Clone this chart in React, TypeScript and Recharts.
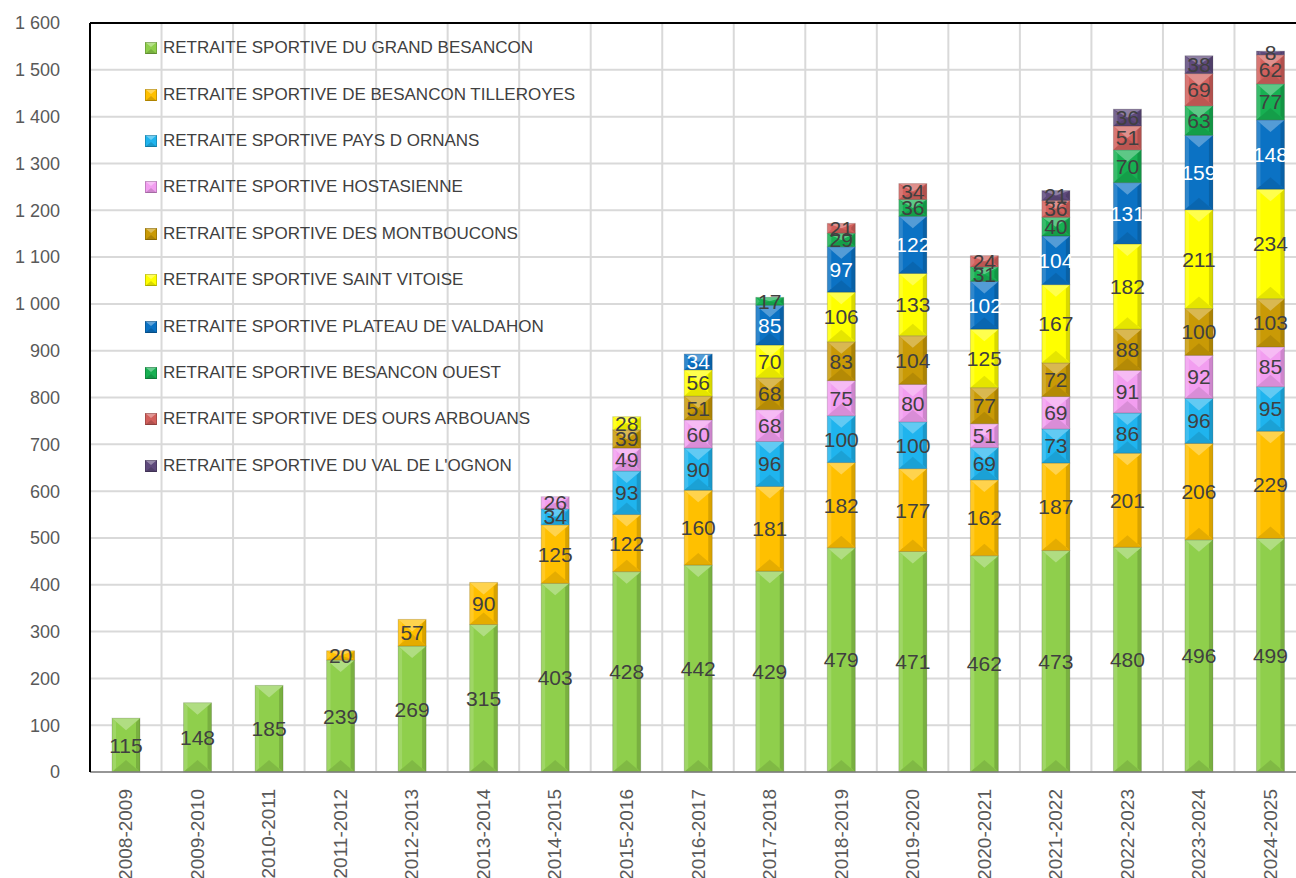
import React from "react";
import { BarChart, Bar, XAxis, YAxis, CartesianGrid, ReferenceLine, LabelList } from "recharts";

const seasons = [
  "2008-2009", "2009-2010", "2010-2011", "2011-2012", "2012-2013", "2013-2014",
  "2014-2015", "2015-2016", "2016-2017", "2017-2018", "2018-2019", "2019-2020",
  "2020-2021", "2021-2022", "2022-2023", "2023-2024", "2024-2025",
];

const n = null;
const grandBesancon = [115, 148, 185, 239, 269, 315, 403, 428, 442, 429, 479, 471, 462, 473, 480, 496, 499];
const tilleroyes = [n, n, n, 20, 57, 90, 125, 122, 160, 181, 182, 177, 162, 187, 201, 206, 229];
const paysOrnans = [n, n, n, n, n, n, 34, 93, 90, 96, 100, 100, 69, 73, 86, 96, 95];
const hostasienne = [n, n, n, n, n, n, 26, 49, 60, 68, 75, 80, 51, 69, 91, 92, 85];
const montboucons = [n, n, n, n, n, n, n, 39, 51, 68, 83, 104, 77, 72, 88, 100, 103];
const saintVitoise = [n, n, n, n, n, n, n, 28, 56, 70, 106, 133, 125, 167, 182, 211, 234];
const valdahon = [n, n, n, n, n, n, n, n, 34, 85, 97, 122, 102, 104, 131, 159, 148];
const besanconOuest = [n, n, n, n, n, n, n, n, n, 17, 29, 36, 31, 40, 70, 63, 77];
const oursArbouans = [n, n, n, n, n, n, n, n, n, n, 21, 34, 24, 36, 51, 69, 62];
const valOgnon = [n, n, n, n, n, n, n, n, n, n, n, n, n, 21, 36, 38, 8];

const yTicks = [0, 100, 200, 300, 400, 500, 600, 700, 800, 900, 1000, 1100, 1200, 1300, 1400, 1500, 1600];

const series = [
  { key: "grand", name: "RETRAITE SPORTIVE DU GRAND BESANCON", values: grandBesancon, color: "#8fcf4c", label: "#404040" },
  { key: "tilleroyes", name: "RETRAITE SPORTIVE DE BESANCON TILLEROYES", values: tilleroyes, color: "#ffc000", label: "#404040" },
  { key: "ornans", name: "RETRAITE SPORTIVE PAYS D ORNANS", values: paysOrnans, color: "#1fb4ee", label: "#404040" },
  { key: "hostasienne", name: "RETRAITE SPORTIVE HOSTASIENNE", values: hostasienne, color: "#f29ef0", label: "#404040" },
  { key: "montboucons", name: "RETRAITE SPORTIVE DES MONTBOUCONS", values: montboucons, color: "#c99a06", label: "#404040" },
  { key: "vitoise", name: "RETRAITE SPORTIVE SAINT VITOISE", values: saintVitoise, color: "#ffff00", label: "#404040" },
  { key: "valdahon", name: "RETRAITE SPORTIVE PLATEAU DE VALDAHON", values: valdahon, color: "#0b72c4", label: "#ffffff" },
  { key: "ouest", name: "RETRAITE SPORTIVE BESANCON OUEST", values: besanconOuest, color: "#17b052", label: "#404040" },
  { key: "ours", name: "RETRAITE SPORTIVE DES OURS ARBOUANS", values: oursArbouans, color: "#d2605c", label: "#404040" },
  { key: "ognon", name: "RETRAITE SPORTIVE DU VAL DE L'OGNON", values: valOgnon, color: "#5f4a7c", label: "#404040" },
];

const data = seasons.map((s, i) => {
  const row: Record<string, any> = { season: s };
  series.forEach((sr) => (row[sr.key] = sr.values[i]));
  return row;
});

const font = "'Liberation Sans', Arial, sans-serif";

const fmt = (v: number) =>
  v >= 1000 ? `${Math.floor(v / 1000)} ${String(v % 1000).padStart(3, "0")}` : String(v);

// bevelled box like excel
const BevelBar = (props: any) => {
  const { x, y, width: w, height: h, fill } = props;
  if (!h || h <= 0) return null;
  const d = Math.min(h / 2, w / 2, 12);
  return (
    <g>
      <rect x={x} y={y} width={w} height={h} fill={fill} />
      <polygon points={`${x},${y} ${x + w},${y} ${x + w / 2},${y + d}`} fill="#ffffff" fillOpacity={0.3} />
      <polygon points={`${x},${y + h} ${x + w},${y + h} ${x + w / 2},${y + h - d}`} fill="#000000" fillOpacity={0.1} />
      <polygon points={`${x},${y} ${x + 4},${y + 4} ${x + 4},${y + h - 4} ${x},${y + h}`} fill="#ffffff" fillOpacity={0.15} />
      <polygon points={`${x + w},${y} ${x + w - 4},${y + 4} ${x + w - 4},${y + h - 4} ${x + w},${y + h}`} fill="#000000" fillOpacity={0.15} />
      <rect x={x} y={y} width={w} height={h} fill="none" stroke="#000000" strokeOpacity={0.15} strokeWidth={1} />
    </g>
  );
};

const SeasonTick = (props: any) => {
  const { x, y, payload } = props;
  return (
    <text
      x={0}
      y={0}
      transform={`translate(${x},${y + 9}) rotate(-90)`}
      textAnchor="end"
      dominantBaseline="central"
      fill="#595959"
      fontSize={19}
      fontFamily={font}
    >
      {payload.value}
    </text>
  );
};

const makeLabel = (color: string) => (props: any) => {
  const { x, y, width, height, value } = props;
  if (value === null || value === undefined) return null;
  return (
    <text
      x={x + width / 2}
      y={y + height / 2}
      textAnchor="middle"
      dominantBaseline="central"
      fill={color}
      fontSize={21}
      fontFamily={font}
    >
      {value}
    </text>
  );
};

const Marker = ({ color }: { color: string }) => (
  <svg width={12} height={12} style={{ display: "block" }}>
    <rect x={0} y={0} width={12} height={12} fill={color} />
    <polygon points="0,0 12,0 6,5" fill="#fff" fillOpacity={0.35} />
    <polygon points="0,12 12,12 6,7" fill="#000" fillOpacity={0.15} />
    <rect x={0.5} y={0.5} width={11} height={11} fill="none" stroke="#000" strokeOpacity={0.2} />
  </svg>
);

export default function App() {
  return (
    <div style={{ position: "absolute", left: 0, top: 0, width: 1296, height: 878, overflow: "hidden", background: "#fff" }}>
      <BarChart
        width={1306}
        height={878}
        data={data}
        margin={{ top: 23, right: 0, left: 0, bottom: 0 }}
        barSize={28}
      >
        <CartesianGrid
          stroke="#d9d9d9"
          strokeWidth={2}
          verticalCoordinatesGenerator={({ offset }: any) =>
            Array.from({ length: seasons.length + 1 }, (_, i) => offset.left + (i * offset.width) / seasons.length)
          }
        />
        <XAxis
          dataKey="season"
          height={106}
          interval={0}
          tickLine={false}
          axisLine={{ stroke: "#7f7f7f", strokeWidth: 1.5 }}
          tick={<SeasonTick />}
        />
        <YAxis
          width={90}
          domain={[0, 1600]}
          ticks={yTicks}
          tickFormatter={fmt}
          tickLine={false}
          tickSize={0}
          tickMargin={30}
          axisLine={{ stroke: "#000", strokeWidth: 2 }}
          tick={{ fill: "#595959", fontSize: 18, fontFamily: font }}
        />
        <ReferenceLine y={1600} stroke="#000" strokeWidth={2} />
        {series.map((sr) => (
          <Bar key={sr.key} dataKey={sr.key} stackId="a" fill={sr.color} isAnimationActive={false} shape={<BevelBar />}>
            <LabelList dataKey={sr.key} content={makeLabel(sr.label)} />
          </Bar>
        ))}
      </BarChart>
      <div style={{ position: "absolute", left: 145, top: 25, fontFamily: font, fontSize: 17, color: "#404040" }}>
        {series.map((sr) => (
          <div key={sr.key} style={{ display: "flex", alignItems: "center", height: 46.4 }}>
            <Marker color={sr.color} />
            <span style={{ marginLeft: 6, whiteSpace: "nowrap" }}>{sr.name}</span>
          </div>
        ))}
      </div>
    </div>
  );
}
